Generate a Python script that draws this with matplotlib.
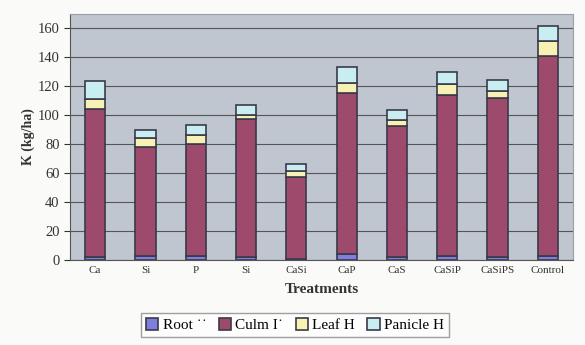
import matplotlib
matplotlib.use("Agg")
import matplotlib.pyplot as plt
import numpy as np

categories = ["Ca", "Si", "P", "Si", "CaSi", "CaP", "CaS", "CaSiP", "CaSiPS", "Control"]
root = [2, 3, 3, 2, 1, 4, 2, 3, 2, 3]
culm = [102.6, 75.2, 77.5, 95.2, 56.5, 111.6, 90.4, 111.3, 110.2, 137.7]
leaf = [6.9, 6.4, 5.7, 2.8, 4.1, 6.7, 4.6, 7.1, 4.6, 10.5]
panicle = [11.9, 5.5, 7.4, 7.4, 4.4, 11.0, 6.9, 8.5, 7.3, 10.8]
series_names = ["Root \u02d9\u02d9", "Culm I\u02d9", "Leaf H", "Panicle H"]
yticks = [0, 20, 40, 60, 80, 100, 120, 140, 160]

colors = ["#7f7fe0", "#9e4a6c", "#f7f2b4", "#c8eef2"]

plt.rcParams['font.family'] = ['Liberation Serif', 'DejaVu Serif']

fig = plt.figure(figsize=(5.85, 3.45), dpi=100)
fig.patch.set_facecolor("#fafaf8")
ax = fig.add_axes([70/585, 1-260/345, 503/585, 246/345])
ax.set_facecolor("#bfc6cf")

x = np.arange(len(categories))
bottom = np.zeros(len(categories))
handles = []
for vals, c, name in zip([root, culm, leaf, panicle], colors, series_names):
    h = ax.bar(x, vals, 0.4, bottom=bottom, color=c, edgecolor="#3a3a4a",
               linewidth=1.2, label=name, zorder=3)
    handles.append(h)
    bottom += np.array(vals)

ax.set_xlim(-0.5, len(categories) - 0.5)
ax.set_ylim(0, 170)
ax.set_yticks(yticks)
ax.tick_params(axis='y', labelsize=10.5, length=4, color="#333333", labelcolor="#333333")
ax.set_xticks(x)
ax.set_xticklabels(categories, fontsize=8, color="#333333")
ax.tick_params(axis='x', length=0, pad=4)
ax.grid(axis='y', color="#555555", linewidth=0.8, zorder=0)
for s in ["top", "right"]:
    ax.spines[s].set_color("#9aa0a8")
ax.spines["left"].set_color("#555555")
ax.spines["bottom"].set_color("#555555")
ax.set_ylabel("K (kg/ha)", fontsize=10, fontweight="bold", color="#333333", labelpad=2)
ax.set_xlabel("Treatments", fontsize=11, fontweight="bold", color="#333333", labelpad=6)

leg = fig.legend(handles=handles, loc="center", bbox_to_anchor=(295/585, 1-325/345),
                 ncol=4, frameon=True, fontsize=11, handlelength=0.8, handleheight=0.8,
                 handletextpad=0.3, columnspacing=0.8, borderpad=0.3, fancybox=False)
leg.get_frame().set_edgecolor("#888888")
leg.get_frame().set_facecolor("white")

fig.savefig("out.png", dpi=100, facecolor=fig.get_facecolor())
